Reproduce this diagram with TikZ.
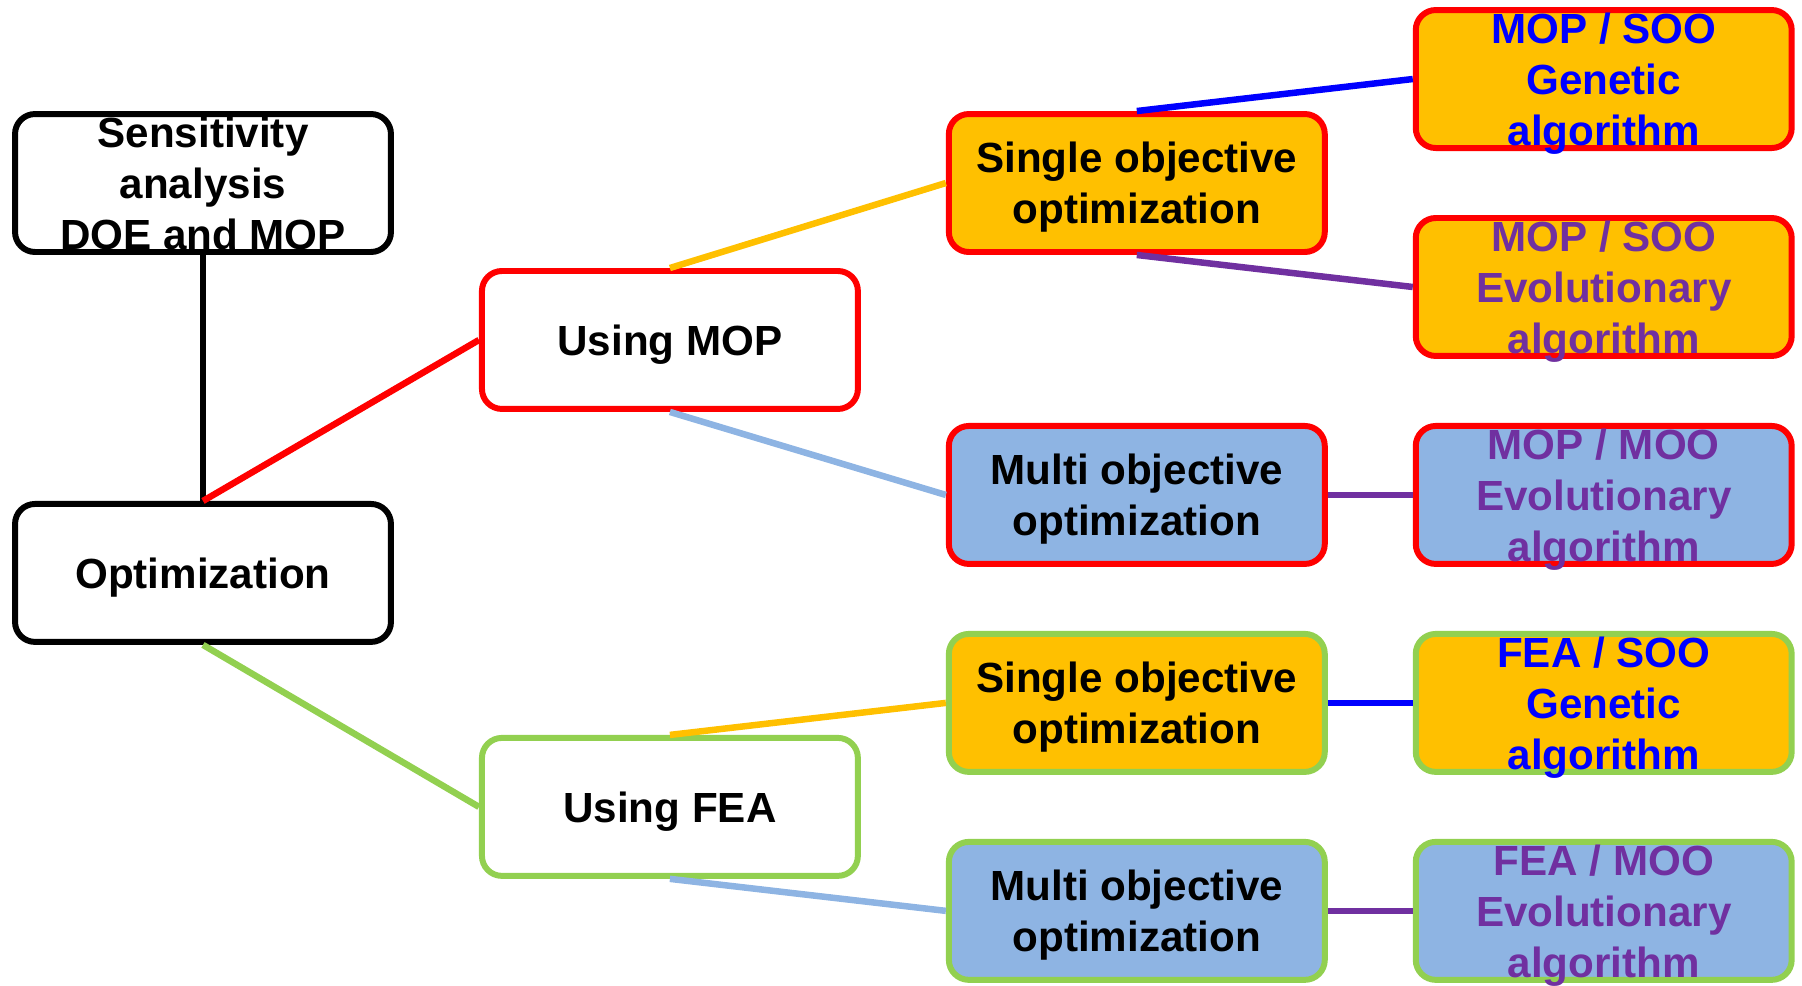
\documentclass[tikz,border=0pt]{standalone}
\usepackage{fontspec}
\setmainfont{Liberation Sans}

\definecolor{feagreen}{HTML}{92D050}
\definecolor{soofill}{HTML}{FFC000}
\definecolor{moofill}{HTML}{8EB4E3}
\definecolor{evopurple}{HTML}{7030A0}
\definecolor{genblue}{HTML}{0000FF}

\begin{document}
\begin{tikzpicture}[
  x=0.02cm, y=-0.02cm,
  box/.style={rectangle, rounded corners=0.4cm, draw, line width=3.4pt, fill=white,
    minimum width=7.52cm, minimum height=2.76cm, inner sep=0pt, align=center,
    text depth=0pt, font=\bfseries\fontsize{24}{29}\selectfont},
  soobox/.style={box, fill=soofill},
  moobox/.style={box, fill=moofill},
  link/.style={line width=3.7pt},
  node distance=9.34cm
]
\useasboundingbox (0,0) rectangle (1802,985);

% left column
\node[box] (sens) at (203,183) {Sensitivity\\analysis\\DOE and MOP};
\node[box, below of=sens, node distance=7.8cm] (opt) {Optimization};

% MOP / FEA branch
\node[box, draw=red, right of=opt, yshift=4.66cm] (mop) {Using MOP};
\node[box, draw=feagreen, right of=opt, yshift=-4.68cm] (fea) {Using FEA};

\node[soobox, draw=red, right of=mop, yshift=3.14cm] (mop_soo) {Single objective\\optimization};
\node[moobox, draw=red, right of=mop, yshift=-3.1cm] (mop_moo) {Multi objective\\optimization};
\node[soobox, draw=feagreen, right of=fea, yshift=2.08cm] (fea_soo) {Single objective\\optimization};
\node[moobox, draw=feagreen, right of=fea, yshift=-2.08cm] (fea_moo) {Multi objective\\optimization};

% algorithms
\node[soobox, draw=red, text=genblue, right of=mop_soo, yshift=2.08cm] (mop_ga) {MOP / SOO\\Genetic\\algorithm};
\node[soobox, draw=red, text=evopurple, right of=mop_soo, yshift=-2.08cm] (mop_ea) {MOP / SOO\\Evolutionary\\algorithm};
\node[moobox, draw=red, text=evopurple, right of=mop_moo] (mop_moo_ea) {MOP / MOO\\Evolutionary\\algorithm};
\node[soobox, draw=feagreen, text=genblue, right of=fea_soo] (fea_ga) {FEA / SOO\\Genetic\\algorithm};
\node[moobox, draw=feagreen, text=evopurple, right of=fea_moo] (fea_ea) {FEA / MOO\\Evolutionary\\algorithm};

\draw[link] (sens.south) -- (opt.north);
\draw[link, red] (opt.north) -- (mop.west);
\draw[link, feagreen] (opt.south) -- (fea.west);
\draw[link, soofill] (mop.north) -- (mop_soo.west);
\draw[link, moofill] (mop.south) -- (mop_moo.west);
\draw[link, soofill] (fea.north) -- (fea_soo.west);
\draw[link, moofill] (fea.south) -- (fea_moo.west);
\draw[link, genblue] (mop_soo.north) -- (mop_ga.west);
\draw[link, evopurple] (mop_soo.south) -- (mop_ea.west);
\draw[link, evopurple] (mop_moo.east) -- (mop_moo_ea.west);
\draw[link, genblue] (fea_soo.east) -- (fea_ga.west);
\draw[link, evopurple] (fea_moo.east) -- (fea_ea.west);
\end{tikzpicture}
\end{document}
